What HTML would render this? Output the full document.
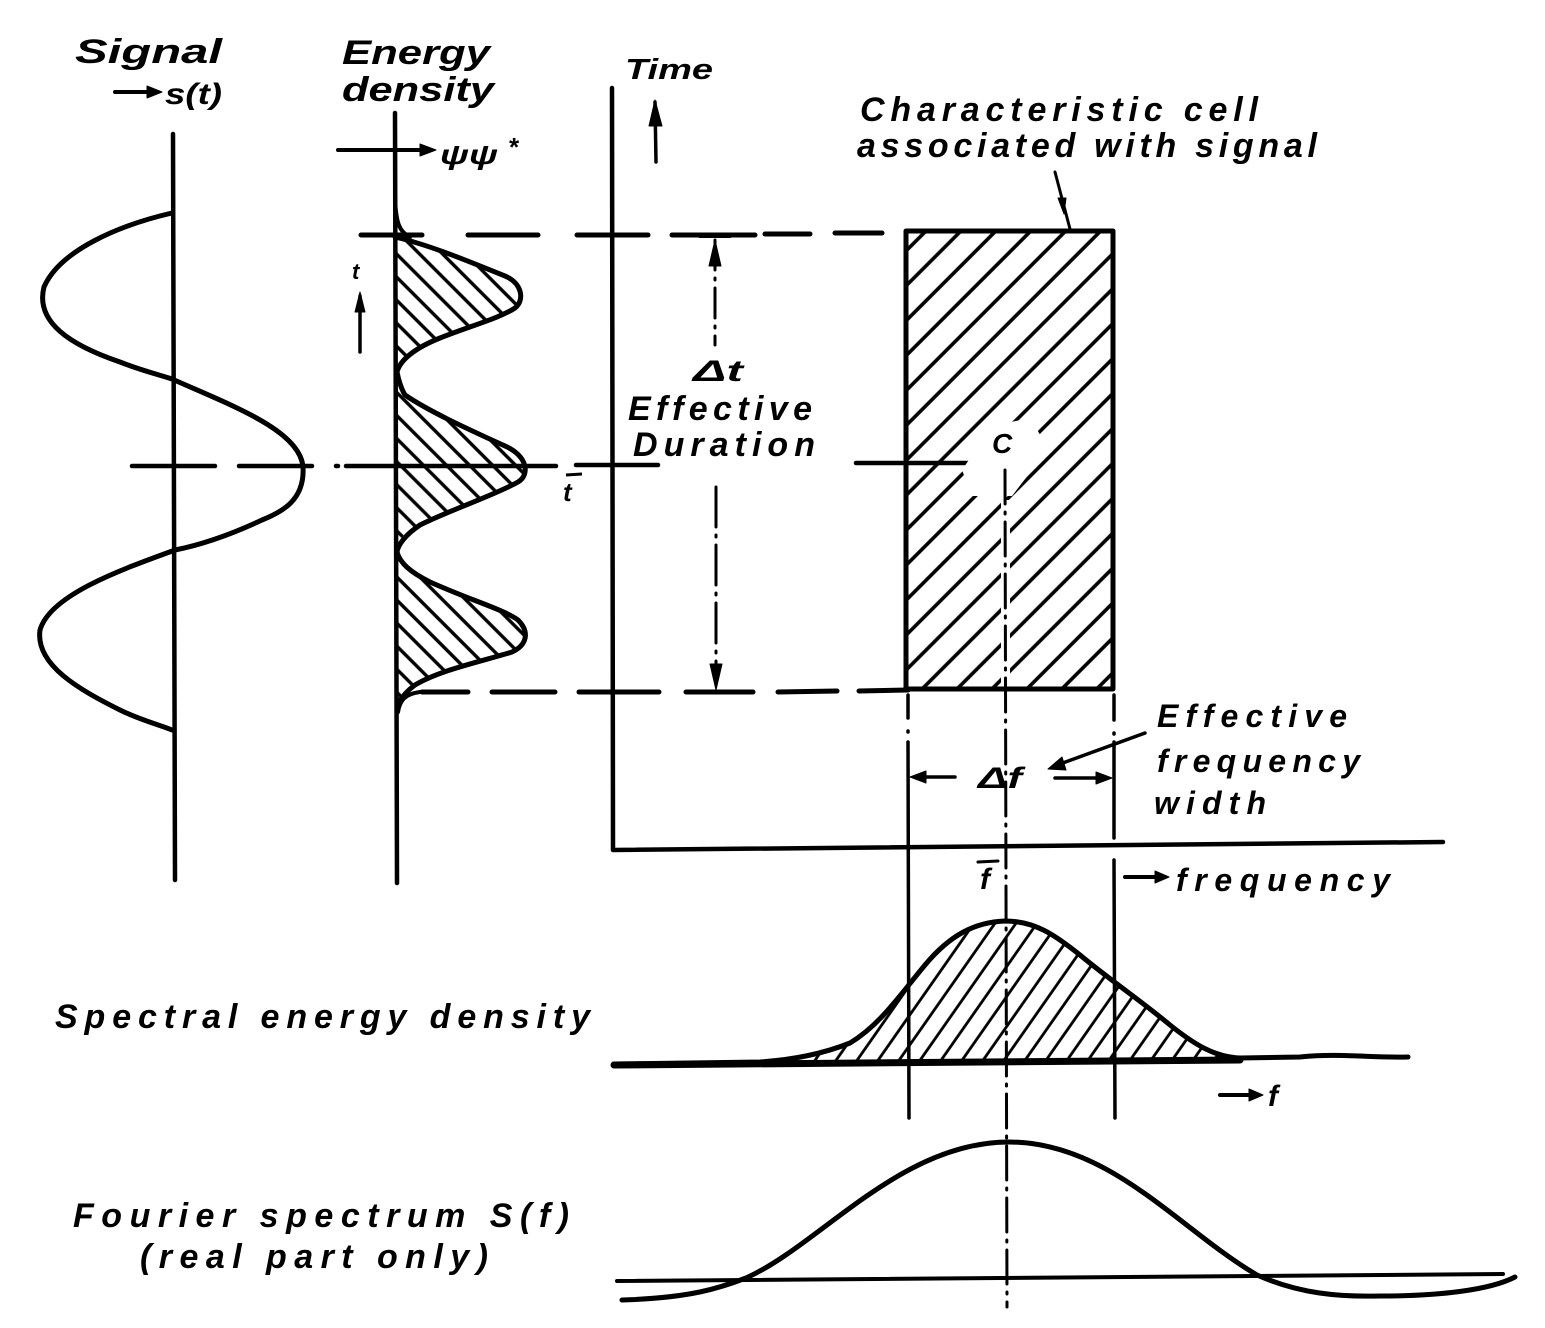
<!DOCTYPE html>
<html>
<head>
<meta charset="utf-8">
<style>
html,body{margin:0;padding:0;background:#fff;}
svg{display:block;}
text{font-family:"Liberation Sans",sans-serif;font-style:italic;font-weight:bold;fill:#000;}
</style>
</head>
<body>
<svg width="1545" height="1328" viewBox="0 0 1545 1328" xmlns="http://www.w3.org/2000/svg">
<defs>
  <pattern id="hr" patternUnits="userSpaceOnUse" width="24.7" height="60" patternTransform="rotate(45)">
    <line x1="3" y1="0" x2="3" y2="60" stroke="#000" stroke-width="3.6"/>
  </pattern>
  <pattern id="he" patternUnits="userSpaceOnUse" width="16.3" height="60" patternTransform="rotate(-45)">
    <line x1="3" y1="0" x2="3" y2="60" stroke="#000" stroke-width="3.4"/>
  </pattern>
  <pattern id="hs" patternUnits="userSpaceOnUse" width="17.2" height="60" patternTransform="rotate(35)">
    <line x1="3" y1="0" x2="3" y2="60" stroke="#000" stroke-width="2.8"/>
  </pattern>
</defs>
<rect width="1545" height="1328" fill="#fff"/>

<g stroke="#000" fill="none" stroke-linecap="round" stroke-linejoin="round">

<!-- ===== Signal ===== -->
<line x1="173" y1="134" x2="175" y2="880" stroke-width="4.5"/>
<path d="M172 213 C120 225,60 250,44 287 C35 322,70 345,120 362 C140 370,160 375,172 379 C230 405,300 430,303 467 C305 500,282 512,262 520 C230 535,200 545,175 550 C120 570,50 595,40 630 C35 665,80 690,120 710 C140 720,160 725,172 730" stroke-width="5"/>
<line x1="115" y1="92" x2="150" y2="92" stroke-width="4"/>
<polygon points="147,86 162,92 147,98" fill="#000" stroke-width="1"/>

<!-- ===== Energy density ===== -->
<path d="M395 237 C430 245,470 262,505 276 C522 283,525 300,515 308 C500 318,470 326,440 338 C415 348,400 360,397 372 C399 382,402 390,405 395 C430 412,470 430,505 446 C528 456,530 475,518 482 C495 495,450 510,420 525 C405 535,398 545,397 552 C400 563,410 572,430 582 C470 600,505 610,518 620 C530 632,527 645,512 652 C480 662,440 670,415 685 C405 692,400 700,397 705 L395 237 Z" fill="url(#he)" stroke="none"/>
<line x1="395" y1="113" x2="397" y2="883" stroke-width="4.5"/>
<path d="M395 237 C430 245,470 262,505 276 C522 283,525 300,515 308 C500 318,470 326,440 338 C415 348,400 360,397 372 C399 382,402 390,405 395 C430 412,470 430,505 446 C528 456,530 475,518 482 C495 495,450 510,420 525 C405 535,398 545,397 552 C400 563,410 572,430 582 C470 600,505 610,518 620 C530 632,527 645,512 652 C480 662,440 670,415 685 C405 692,400 700,397 705" stroke-width="5"/>
<path d="M395 198 C396 222,399 232,410 237" stroke-width="4"/>
<path d="M398 712 C400 700,405 694,420 692" stroke-width="4"/>
<line x1="338" y1="150" x2="425" y2="150" stroke-width="4"/>
<polygon points="420,144 436,150 420,156" fill="#000" stroke-width="1"/>
<line x1="360" y1="296" x2="360" y2="352" stroke-width="3.5"/>
<polygon points="360,292 355,312 365,312" fill="#000" stroke-width="1"/>

<!-- ===== Time axis ===== -->
<path d="M612 88 L613 850 L1443 842" stroke-width="4.5"/>
<line x1="655" y1="102" x2="656" y2="162" stroke-width="3.5"/>
<polygon points="655,100 649,126 662,126" fill="#000" stroke-width="1"/>

<!-- dashed top -->
<g stroke-width="5">
<line x1="361" y1="235" x2="422" y2="235"/>
<line x1="468" y1="235" x2="538" y2="235"/>
<line x1="577" y1="235" x2="648" y2="235"/>
<line x1="672" y1="235" x2="755" y2="235"/>
<line x1="765" y1="234" x2="810" y2="234"/>
<line x1="835" y1="233" x2="882" y2="233"/>
</g>
<!-- dashed bottom -->
<g stroke-width="5">
<line x1="422" y1="692" x2="468" y2="692"/>
<line x1="492" y1="692" x2="555" y2="692"/>
<line x1="579" y1="692" x2="659" y2="692"/>
<line x1="686" y1="692" x2="753" y2="692"/>
<line x1="778" y1="692" x2="837" y2="691"/>
<line x1="859" y1="691" x2="908" y2="690"/>
</g>
<!-- middle dash-dot -->
<g stroke-width="4.5">
<line x1="132" y1="466" x2="215" y2="466"/>
<line x1="239" y1="466" x2="312" y2="466"/>
<line x1="336" y1="466" x2="338" y2="466"/>
<line x1="346" y1="466" x2="556" y2="466"/>
<line x1="576" y1="465" x2="658" y2="465"/>
<line x1="856" y1="463" x2="1003" y2="463"/>
</g>

<!-- Delta t arrows -->
<line x1="700" y1="236" x2="730" y2="236" stroke-width="4"/>
<line x1="715" y1="240" x2="715" y2="345" stroke-width="3" stroke-dasharray="30 8 2 8"/>
<polygon points="715,240 709,266 721,266" fill="#000" stroke-width="1"/>
<line x1="716" y1="487" x2="716" y2="680" stroke-width="3" stroke-dasharray="40 8 2 8"/>
<polygon points="716,690 710,664 722,664" fill="#000" stroke-width="1"/>

<!-- ===== Characteristic cell ===== -->
<rect x="906" y="231" width="207" height="458" fill="url(#hr)" stroke="none"/>
<polygon points="962,470 992,426 1030,418 1042,438 1032,470 1012,496 972,496" fill="#fff" stroke="none"/>
<rect x="1001" y="500" width="9" height="187" fill="#fff" stroke="none"/>
<rect x="906" y="231" width="207" height="458" stroke-width="5"/>
<line x1="1055" y1="172" x2="1070" y2="229" stroke-width="3"/>
<polygon points="1058,198 1066,198 1064,214" fill="#000" stroke-width="1"/>

<line x1="1005" y1="470" x2="1007" y2="1307" stroke-width="3" stroke-dasharray="34 8 2 8"/>

<g stroke-width="3.5">
<line x1="908" y1="695" x2="908" y2="718"/>
<line x1="908" y1="731" x2="908" y2="732"/>
<line x1="908" y1="742" x2="909" y2="1118"/>
<line x1="1114" y1="695" x2="1114" y2="720"/>
<line x1="1114" y1="733" x2="1114" y2="734"/>
<line x1="1114" y1="742" x2="1114" y2="838"/>
<line x1="1114" y1="860" x2="1115" y2="1118"/>
</g>

<line x1="918" y1="777" x2="955" y2="777" stroke-width="3.5"/>
<polygon points="910,777 926,771 926,783" fill="#000" stroke-width="1"/>
<line x1="1055" y1="778" x2="1100" y2="778" stroke-width="3.5"/>
<polygon points="1112,778 1096,772 1096,784" fill="#000" stroke-width="1"/>

<line x1="1145" y1="733" x2="1060" y2="764" stroke-width="3.5"/>
<polygon points="1048,769 1062,757 1066,770" fill="#000" stroke-width="1"/>

<line x1="1125" y1="877" x2="1158" y2="877" stroke-width="4"/>
<polygon points="1155,871 1169,877 1155,883" fill="#000" stroke-width="1"/>
<line x1="978" y1="862" x2="998" y2="861" stroke-width="3"/>

<!-- ===== Spectral energy density ===== -->
<path d="M760 1062 C790 1060,820 1055,850 1043 C880 1025,900 995,925 965 C950 935,975 922,1005 921 C1035 921,1055 935,1080 955 C1110 980,1140 1000,1170 1025 C1195 1045,1215 1057,1240 1058 Z" fill="url(#hs)" stroke="none"/>
<path d="M614 1064 L760 1062 C790 1060,820 1055,850 1043 C880 1025,900 995,925 965 C950 935,975 922,1005 921 C1035 921,1055 935,1080 955 C1110 980,1140 1000,1170 1025 C1195 1045,1215 1057,1240 1058 L1300 1057 C1340 1053,1370 1058,1408 1057" stroke-width="5"/>
<line x1="614" y1="1065" x2="1240" y2="1060" stroke-width="7"/>
<line x1="1220" y1="1095" x2="1252" y2="1095" stroke-width="4"/>
<polygon points="1249,1089 1263,1095 1249,1101" fill="#000" stroke-width="1"/>

<!-- ===== Fourier spectrum ===== -->
<line x1="617" y1="1281" x2="1503" y2="1274" stroke-width="4"/>
<path d="M622 1300 C690 1298,720 1288,746 1278 C820 1245,900 1142,1009 1142 C1110 1142,1180 1230,1257 1275 C1300 1294,1340 1297,1380 1296 C1440 1296,1490 1290,1515 1277" stroke-width="5"/>
</g>

<!-- ===== Text ===== -->
<text x="75" y="63" font-size="34" textLength="147" lengthAdjust="spacingAndGlyphs">Signal</text>
<text x="165" y="104" font-size="30" textLength="57" lengthAdjust="spacingAndGlyphs">s(t)</text>
<text x="342" y="64" font-size="34" textLength="148" lengthAdjust="spacingAndGlyphs">Energy</text>
<text x="342" y="101" font-size="34" textLength="152" lengthAdjust="spacingAndGlyphs">density</text>
<text x="625" y="79" font-size="29" textLength="88" lengthAdjust="spacingAndGlyphs">Time</text>
<text x="440" y="164" font-size="28" textLength="58" lengthAdjust="spacingAndGlyphs">ψψ</text>
<text x="508" y="156" font-size="26">*</text>
<text x="352" y="279" font-size="22">t</text>
<text x="860" y="121" font-size="34" textLength="398" lengthAdjust="spacing">Characteristic cell</text>
<text x="857" y="157" font-size="34" textLength="460" lengthAdjust="spacing">associated with signal</text>
<text x="693" y="381" font-size="30" textLength="50" lengthAdjust="spacingAndGlyphs">Δt</text>
<text x="628" y="420" font-size="34" textLength="184" lengthAdjust="spacing">Effective</text>
<text x="633" y="456" font-size="34" textLength="182" lengthAdjust="spacing">Duration</text>
<text x="992" y="453" font-size="28">C</text>
<line x1="566" y1="475" x2="582" y2="474" stroke="#000" stroke-width="3"/>
<text x="563" y="501" font-size="26">t</text>
<text x="1157" y="727" font-size="32" textLength="190" lengthAdjust="spacing">Effective</text>
<text x="1157" y="772" font-size="32" textLength="203" lengthAdjust="spacing">frequency</text>
<text x="1154" y="814" font-size="32" textLength="112" lengthAdjust="spacing">width</text>
<text x="978" y="788" font-size="30" textLength="44" lengthAdjust="spacingAndGlyphs">Δf</text>
<text x="980" y="889" font-size="30">f</text>
<text x="1176" y="891" font-size="32" textLength="214" lengthAdjust="spacing">frequency</text>
<text x="1268" y="1106" font-size="30">f</text>
<text x="55" y="1028" font-size="34" textLength="535" lengthAdjust="spacing">Spectral energy density</text>
<text x="73" y="1227" font-size="34" textLength="496" lengthAdjust="spacing">Fourier spectrum S(f)</text>
<text x="140" y="1268" font-size="34" textLength="348" lengthAdjust="spacing">(real part only)</text>
</svg>
</body>
</html>
